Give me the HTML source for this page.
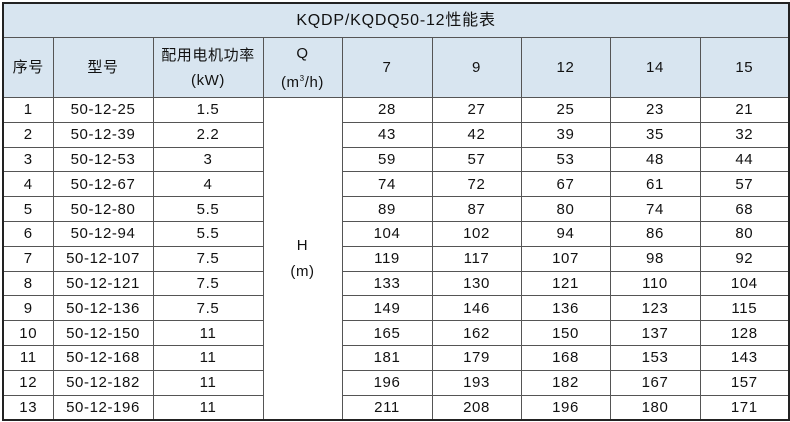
<!DOCTYPE html>
<html><head><meta charset="utf-8"><style>
html,body{margin:0;padding:0;background:#fff;width:790px;height:422px;overflow:hidden}
table{position:absolute;left:2px;top:2px;width:786px;height:417px;border-collapse:collapse;table-layout:fixed;border:2px solid #222;font-family:"Liberation Sans","Noto Sans CJK SC",sans-serif;font-size:15px;letter-spacing:0.6px;color:#111}
td{border:1px solid #555;text-align:center;padding:0;line-height:1;}
tr.d td{height:23.8px}
.h td{background:#d8e5f0}
.t td{background:#d8e5f0;height:33px;font-size:16px;letter-spacing:0.8px}
.hd td{height:59px;line-height:25px}
</style></head><body>
<table>
<colgroup><col style="width:50px"><col style="width:100px"><col style="width:110px"><col style="width:79px"><col style="width:90px"><col style="width:89px"><col style="width:89px"><col style="width:90px"><col style="width:89px"></colgroup>
<tr class="t"><td colspan="9">KQDP/KQDQ50-12性能表</td></tr>
<tr class="h hd"><td>序号</td><td>型号</td><td>配用电机功率<br>(kW)</td><td>Q<br>(m<sup style="font-size:8px">3</sup>/h)</td><td>7</td><td>9</td><td>12</td><td>14</td><td>15</td></tr>
<tr class="d"><td>1</td><td>50-12-25</td><td>1.5</td><td rowspan="13" style="line-height:26px">H<br>(m)</td><td>28</td><td>27</td><td>25</td><td>23</td><td>21</td></tr>
<tr class="d"><td>2</td><td>50-12-39</td><td>2.2</td><td>43</td><td>42</td><td>39</td><td>35</td><td>32</td></tr>
<tr class="d"><td>3</td><td>50-12-53</td><td>3</td><td>59</td><td>57</td><td>53</td><td>48</td><td>44</td></tr>
<tr class="d"><td>4</td><td>50-12-67</td><td>4</td><td>74</td><td>72</td><td>67</td><td>61</td><td>57</td></tr>
<tr class="d"><td>5</td><td>50-12-80</td><td>5.5</td><td>89</td><td>87</td><td>80</td><td>74</td><td>68</td></tr>
<tr class="d"><td>6</td><td>50-12-94</td><td>5.5</td><td>104</td><td>102</td><td>94</td><td>86</td><td>80</td></tr>
<tr class="d"><td>7</td><td>50-12-107</td><td>7.5</td><td>119</td><td>117</td><td>107</td><td>98</td><td>92</td></tr>
<tr class="d"><td>8</td><td>50-12-121</td><td>7.5</td><td>133</td><td>130</td><td>121</td><td>110</td><td>104</td></tr>
<tr class="d"><td>9</td><td>50-12-136</td><td>7.5</td><td>149</td><td>146</td><td>136</td><td>123</td><td>115</td></tr>
<tr class="d"><td>10</td><td>50-12-150</td><td>11</td><td>165</td><td>162</td><td>150</td><td>137</td><td>128</td></tr>
<tr class="d"><td>11</td><td>50-12-168</td><td>11</td><td>181</td><td>179</td><td>168</td><td>153</td><td>143</td></tr>
<tr class="d"><td>12</td><td>50-12-182</td><td>11</td><td>196</td><td>193</td><td>182</td><td>167</td><td>157</td></tr>
<tr class="d"><td>13</td><td>50-12-196</td><td>11</td><td>211</td><td>208</td><td>196</td><td>180</td><td>171</td></tr>
</table>
</body></html>
